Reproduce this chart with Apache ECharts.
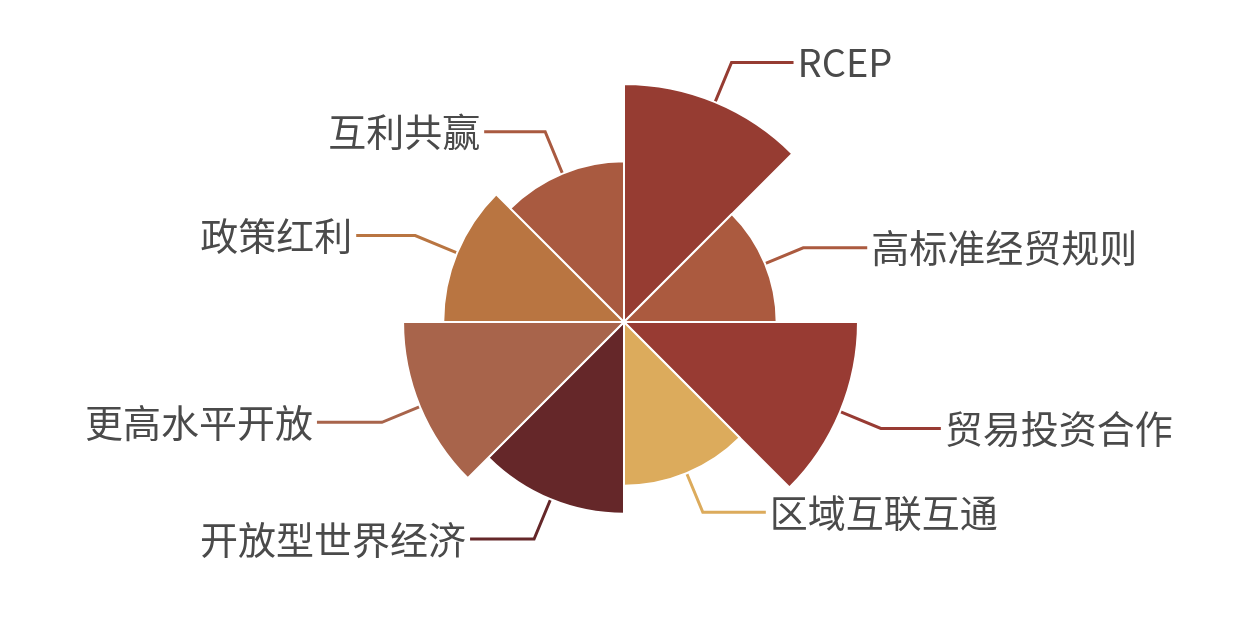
<!DOCTYPE html>
<html>
<head>
<meta charset="utf-8">
<script src="https://cdn.jsdelivr.net/npm/echarts@6/dist/echarts.min.js"></script>
<style>
  html,body{margin:0;padding:0;background:#fff;}
  #main{width:1236px;height:622px;}
</style>
</head>
<body>
<div id="main"></div>
<script>
  // 数据
  const names = ['RCEP', '高标准经贸规则', '贸易投资合作', '区域互联互通', '开放型世界经济', '更高水平开放', '政策红利', '互利共赢'];
  const values = [237, 152, 233, 163, 191, 220, 180, 160];

  // 样式
  const colors = ['#963c32', '#ab5a3f', '#983b33', '#dcab5c', '#652729', '#a8644b', '#b97541', '#a95a40'];
  const lineLen = [43, -44, 40, -32, -3, 24, -12, -32];
  const lineLen2 = [62, 64, 60, 63, 64, 65, 59, 61];

  let myChart = echarts.init(document.getElementById('main'));
  myChart.setOption({
    animation: false,
    series: [
      {
        type: 'pie',
        roseType: 'area',
        center: [624, 322],
        radius: [0, 238],
        startAngle: 90,
        clockwise: true,
        avoidLabelOverlap: false,
        itemStyle: {
          borderColor: '#fff',
          borderWidth: 2
        },
        label: {
          show: true,
          position: 'outside',
          color: '#4a4a4a',
          fontSize: 38,
          fontFamily: 'Noto Sans CJK SC',
          distanceToLabelLine: 4
        },
        labelLine: {
          show: true,
          lineStyle: { width: 3 }
        },
        data: names.map((n, i) => ({
          name: n,
          value: values[i],
          itemStyle: { color: colors[i] },
          labelLine: {
            length: lineLen[i],
            length2: lineLen2[i],
            lineStyle: { color: colors[i] }
          }
        }))
      }
    ]
  });
</script>
</body>
</html>
